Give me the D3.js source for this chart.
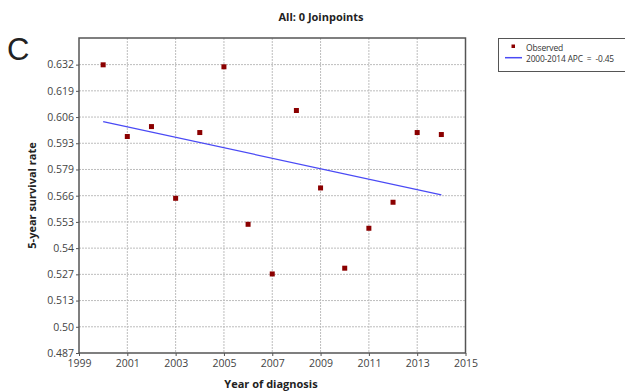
<!DOCTYPE html>
<html><head><meta charset="utf-8">
<script src="https://cdn.jsdelivr.net/npm/d3@7"></script>
<style>
body{margin:0;background:#fff;}
text{font-family:"Open Sans","Noto Sans",sans-serif;}
</style></head>
<body>
<svg id="chart" width="625" height="391"></svg>
<script>
const years = [2000,2001,2002,2003,2004,2005,2006,2007,2008,2009,2010,2011,2012,2013,2014];
const observed = [0.6321,0.5960,0.6010,0.5649,0.5980,0.6311,0.5518,0.5268,0.6091,0.5701,0.5297,0.5498,0.5629,0.5980,0.5970];
const fitYears = [2000,2014];
const fitValues = [0.6035,0.5666];
const xTicks = [1999,2001,2003,2005,2007,2009,2011,2013,2015];
const yTicks = [0.487,0.5002,0.5134,0.5266,0.5398,0.553,0.5662,0.5794,0.5926,0.6058,0.619,0.6322];
const yTickLabels = ["0.487","0.50","0.513","0.527","0.54","0.553","0.566","0.579","0.593","0.606","0.619","0.632"];
const titleText = "All: 0 Joinpoints";
const legendLabels = ["Observed","2000-2014 APC  =  -0.45"];

const svg = d3.select("#chart");
const L=79, T=38, R=465.5, B=353;
const x = d3.scaleLinear().domain([1999,2015]).range([L,R]);
const y = d3.scaleLinear().domain([0.487,0.6456]).range([B,T]);

// grid
const g = svg.append("g");
g.selectAll(".vg").data(xTicks.slice(1,-1)).enter().append("line")
  .attr("x1",d=>x(d)).attr("x2",d=>x(d)).attr("y1",T).attr("y2",B)
  .attr("stroke","#bdbdbd").attr("stroke-width",1).attr("stroke-dasharray","2,1");
g.selectAll(".hg").data(yTicks.slice(1)).enter().append("line")
  .attr("x1",L).attr("x2",R).attr("y1",d=>y(d)).attr("y2",d=>y(d))
  .attr("stroke","#bdbdbd").attr("stroke-width",1).attr("stroke-dasharray","2,1");

// axes
const yAxis = d3.axisLeft(y).tickValues(yTicks).tickFormat((d,i)=>yTickLabels[i]).tickSize(3).tickPadding(2);
const xAxis = d3.axisBottom(x).tickValues(xTicks).tickFormat(d3.format("d")).tickSize(3).tickPadding(4);
const ya = svg.append("g").attr("transform",`translate(${L},0)`).call(yAxis);
const xa = svg.append("g").attr("transform",`translate(0,${B})`).call(xAxis);
[ya,xa].forEach(a=>{
  a.select(".domain").remove();
  a.selectAll("line").attr("stroke","#555");
  a.selectAll("text").attr("font-size","10.5px").attr("fill","#444").style("font-family","'Open Sans',sans-serif");
});

// frame
svg.append("rect").attr("x",L).attr("y",T).attr("width",R-L).attr("height",B-T)
  .attr("fill","none").attr("stroke","#555").attr("stroke-width",1.5);

// fitted line
const line = d3.line().x((d,i)=>x(fitYears[i])).y(d=>y(d));
svg.append("path").datum(fitValues).attr("d",line).attr("fill","none")
  .attr("stroke","#4a4af5").attr("stroke-width",1.2);

// observed points
svg.selectAll(".pt").data(observed).enter().append("rect")
  .attr("x",(d,i)=>x(years[i])-2.5).attr("y",d=>y(d)-2.5)
  .attr("width",5).attr("height",5).attr("fill","#8b0000");

// title
svg.append("text").attr("x",321).attr("y",21).attr("text-anchor","middle")
  .attr("font-size","11px").attr("font-weight","bold").attr("fill","#222").text(titleText);

// panel letter
svg.append("text").attr("x",7).attr("y",60).attr("font-size","31px").attr("fill","#222")
  .style("font-family","'Liberation Sans',Arial,sans-serif").text("C");

// axis titles
svg.append("text").attr("x",271).attr("y",388).attr("text-anchor","middle")
  .attr("font-size","11px").attr("font-weight","bold").attr("fill","#222").text("Year of diagnosis");
svg.append("text").attr("transform",`translate(36,${(T+B)/2}) rotate(-90)`).attr("text-anchor","middle")
  .attr("font-size","11px").attr("font-weight","bold").attr("fill","#222").text("5-year survival rate");

// legend
const lg = svg.append("g");
lg.append("rect").attr("x",498.5).attr("y",38.5).attr("width",140).attr("height",33)
  .attr("fill","#fff").attr("stroke","#555").attr("stroke-width",1);
lg.append("rect").attr("x",511.5).attr("y",44.5).attr("width",3.5).attr("height",3.5).attr("fill","#8b0000");
lg.append("line").attr("x1",505).attr("x2",522).attr("y1",57.7).attr("y2",57.7).attr("stroke","#4a4af5").attr("stroke-width",1.5);
const maxLegW = 88;
lg.selectAll(".lt").data(legendLabels).enter().append("text")
  .attr("x",526).attr("y",(d,i)=>50.5+i*11.5).attr("font-size","8.5px").attr("fill","#333")
  .attr("letter-spacing","-0.15")
  .style("white-space","pre").attr("xml:space","preserve").text(d=>d)
  .each(function(){
    const w = this.getComputedTextLength();
    if (w > maxLegW) d3.select(this).attr("textLength",maxLegW).attr("lengthAdjust","spacingAndGlyphs");
  });
</script>
</body></html>
